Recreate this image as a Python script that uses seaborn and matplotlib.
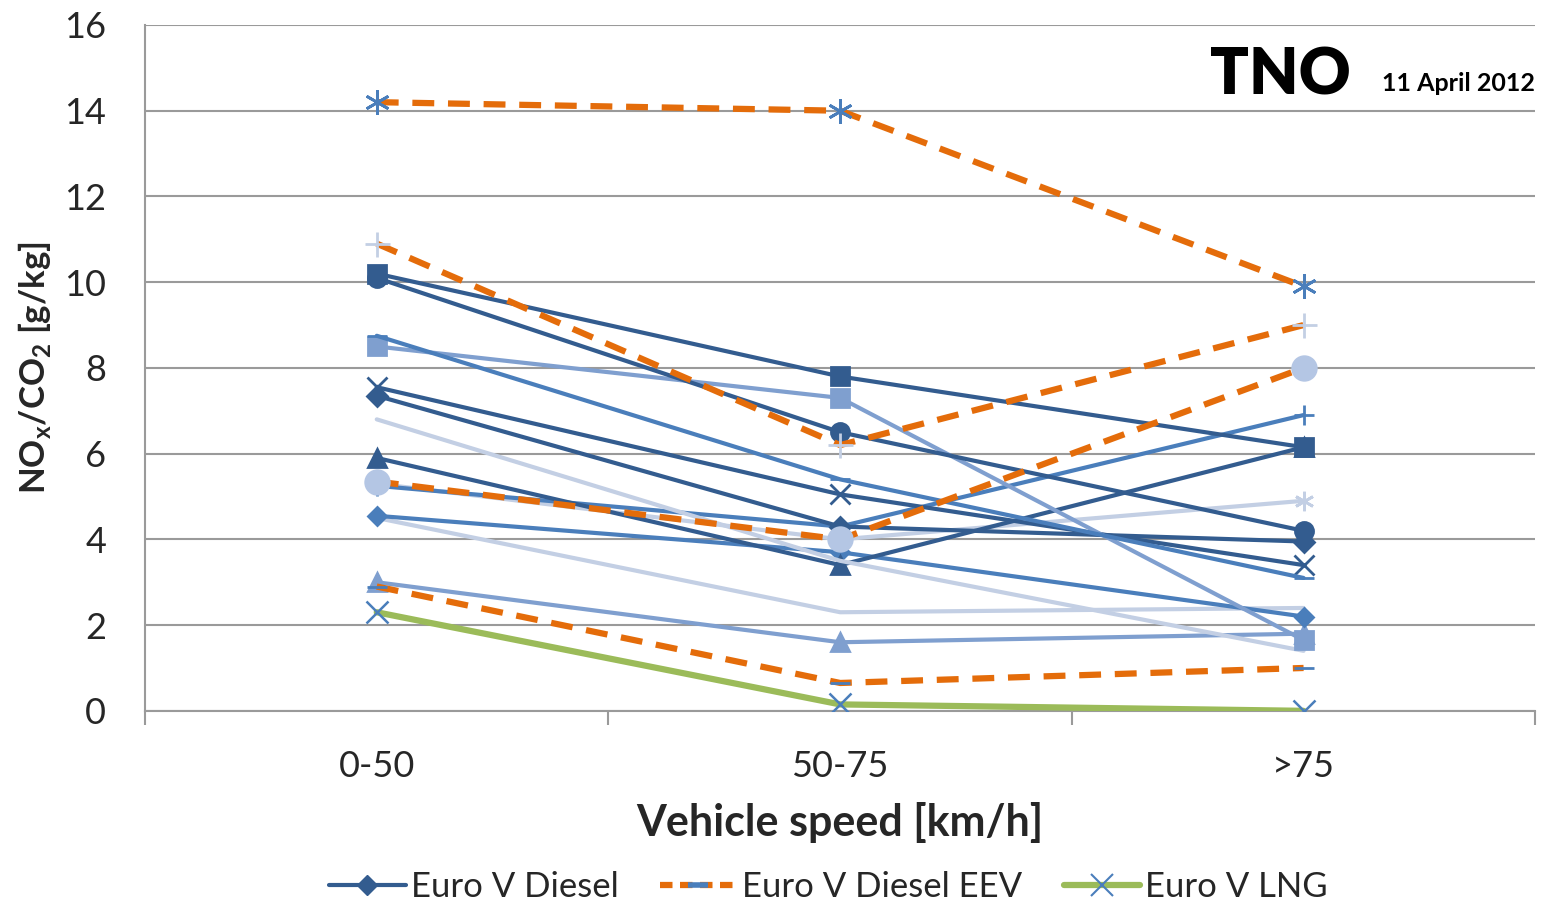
import numpy as np
import pandas as pd
import matplotlib
matplotlib.use("Agg")
import matplotlib.pyplot as plt
import seaborn as sns
from matplotlib.lines import Line2D

# Speed classes
speed_classes = ["0-50", "50-75", ">75"]

# Euro V Diesel vehicles (NOx/CO2 in g/kg)
diesel_a = [10.2, 7.8, 6.15]
diesel_b = [10.1, 6.5, 4.2]
diesel_c = [8.75, 5.4, 3.1]
diesel_d = [8.5, 7.3, 1.65]
diesel_e = [7.55, 5.05, 3.4]
diesel_f = [7.35, 4.3, 3.95]
diesel_g = [6.8, 3.5, 1.4]
diesel_i = [5.9, 3.4, 6.15]
diesel_p = [5.25, 4.3, 6.9]
diesel_j = [5.3, 4.0, 4.9]
diesel_k = [4.55, 3.7, 2.2]
diesel_h = [4.5, 2.3, 2.4]
diesel_l = [3.0, 1.6, 1.8]

# Euro V Diesel EEV vehicles
eev_1 = [14.2, 14.0, 9.9]
eev_2 = [10.9, 6.2, 9.0]
eev_3 = [5.35, 4.0, 8.0]
eev_4 = [2.9, 0.65, 1.0]

# Euro V LNG vehicle
lng_1 = [2.3, 0.15, 0.0]

dark = "#335c8f"
mid = "#4a7ebb"
light = "#7f9fcf"
pale = "#c3cfe4"
orange = "#e46c0a"
green = "#9bbb59"
asterisk = (6, 2, 0)

sns.set_theme(style="white")
plt.rcParams["font.family"] = ["Lato", "DejaVu Sans"]
plt.rcParams["mathtext.fontset"] = "custom"
plt.rcParams["mathtext.rm"] = "Lato:bold"
plt.rcParams["mathtext.bf"] = "Lato:bold"

fig = plt.figure(figsize=(15.43, 9.09), dpi=100)
ax = fig.add_axes([0.094, 0.218, 0.901, 0.7545])

x = np.arange(len(speed_classes))

diesel = [
    (diesel_l, light, "^", 13),
    (diesel_h, pale, None, 0),
    (diesel_k, mid, "D", 9),
    (diesel_j, pale, asterisk, 14),
    (diesel_p, mid, "+", 14),
    (diesel_i, dark, "^", 13),
    (diesel_g, pale, None, 0),
    (diesel_f, dark, "D", 10),
    (diesel_e, dark, "x", 14),
    (diesel_d, light, "s", 13),
    (diesel_c, mid, "_", 14),
    (diesel_b, dark, "o", 13),
    (diesel_a, dark, "s", 13),
]
for vals, col, mk, ms in diesel:
    sns.lineplot(x=x, y=vals, ax=ax, color=col, lw=3, marker=mk,
                 markersize=ms, markeredgecolor=col, markeredgewidth=2,
                 zorder=3)

eev = [
    (eev_1, mid, asterisk, 18),
    (eev_2, pale, "+", 18),
    (eev_3, "#b4c6e4", "o", 17),
    (eev_4, mid, "_", 14),
]
for vals, mcol, mk, ms in eev:
    sns.lineplot(x=x, y=vals, ax=ax, color=orange, lw=4.5,
                 linestyle=(0, (3.5, 2.2)), marker=mk, markersize=ms,
                 markerfacecolor=mcol, markeredgecolor=mcol,
                 markeredgewidth=2, zorder=4)

sns.lineplot(x=x, y=lng_1, ax=ax, color=green, lw=4.5, marker="x",
             markersize=16, markeredgecolor=mid, markeredgewidth=1.8,
             zorder=4)

# Axes styling
ax.set_xlim(-0.5, 2.5)
ax.set_ylim(0, 16)
ax.set_yticks(range(0, 17, 2))
ax.yaxis.grid(True, color="#9a9a9a", lw=1.5)
ax.set_axisbelow(True)
for s in ["top", "right"]:
    ax.spines[s].set_visible(False)
for s in ["left", "bottom"]:
    ax.spines[s].set_color("#9a9a9a")
    ax.spines[s].set_linewidth(1.5)
ax.set_xticks(x)
ax.set_xticklabels(speed_classes)
ax.set_xticks([-0.5, 0.5, 1.5, 2.5], minor=True)
ax.tick_params(axis="x", which="major", length=0, pad=28, labelsize=26)
ax.tick_params(axis="x", which="minor", length=10, width=1.5,
               color="#9a9a9a", direction="out", bottom=True)
ax.tick_params(axis="y", length=0, pad=28, labelsize=26)

ax.set_xlabel("Vehicle speed [km/h]", fontsize=31, fontweight="bold",
              labelpad=14)
ax.set_ylabel(r"NO$_\mathbf{x}$/CO$_\mathbf{2}$ [g/kg]", fontsize=25,
              fontweight="bold")
ax.yaxis.set_label_coords(-0.066, 0.5)

# TNO mark and date
fig.text(0.784, 0.916, "TNO", fontsize=46, fontweight="heavy",
         ha="left", va="center", color="black")
fig.text(0.995, 0.908, "11 April 2012", fontsize=18, fontweight="bold",
         ha="right", va="center", color="black")

handles = [
    Line2D([], [], color=dark, lw=3, marker="D", markersize=10),
    Line2D([], [], color=orange, lw=4.5, linestyle=(0, (2, 1.2)),
           marker="_", markersize=14, markeredgecolor=mid,
           markeredgewidth=4),
    Line2D([], [], color=green, lw=4.5, marker="x", markersize=16,
           markeredgecolor=mid, markeredgewidth=1.5),
]
fig.legend(handles, ["Euro V Diesel", "Euro V Diesel EEV", "Euro V LNG"],
           loc="center", bbox_to_anchor=(0.537, 0.024), ncol=3,
           frameon=False, fontsize=25, handlelength=2.2, handletextpad=0.15,
           columnspacing=1.2)

fig.savefig("out.png", dpi=100)
